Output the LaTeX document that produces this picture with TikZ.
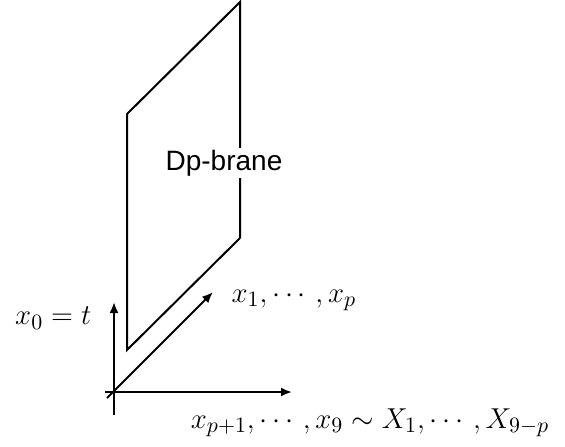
\documentclass[tikz,border=0pt]{standalone}
\usepackage{amsmath,amssymb}
\usepackage{fontspec}
\setsansfont{Liberation Sans}
\usetikzlibrary{arrows.meta}

\begin{document}
\begin{tikzpicture}[x=0.5pt,y=-0.5pt,line width=1pt,
            axlab/.style={font=\fontsize{15.5}{18}\selectfont}]
            \useasboundingbox (0,0) rectangle (565,446);
            % corners of the brane
            \coordinate (bl) at (127,350);
            \coordinate (tl) at (127,114);
            \coordinate (tr) at (240,2);
            \coordinate (br) at (240,238);
            % Draw the brane
            \draw (br) -- (bl) -- (tl) -- (tr) -- (br);
            \node[fill=white,inner sep=1pt,font=\sffamily\fontsize{14}{16}\selectfont] (brane) at (224,163) {Dp-brane};
            % Axes
            \coordinate (O) at (114,392);
            \draw[-{Latex[length=5.5pt,width=4.5pt]}] (114,415) -- (114,302) node (t) {};
            \draw[-{Latex[length=5.5pt,width=4.5pt]}] (105,392) -- (292,392) node (xs) {};
            \draw[-{Latex[length=5.5pt,width=4.5pt]}] (107,398) -- (213,292) node (xp) {};
            \node[anchor=east,axlab] (tlab) at (99,318) {$x_0=t$};
            \node[anchor=west,axlab] (plab) at (224,300) {$x_1,\cdots,x_p$};
            \node[axlab] (slab) at (370,423) {$x_{p+1},\cdots,x_9\sim X_1,\cdots,X_{9-p}$};
        \end{tikzpicture}
\end{document}
